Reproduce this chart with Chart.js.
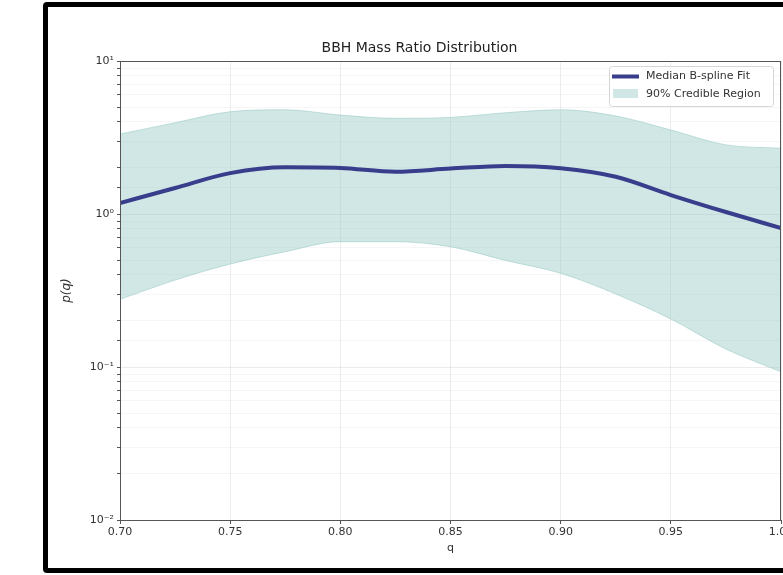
<!DOCTYPE html>
<html>
<head>
<meta charset="utf-8">
<script src="https://cdn.jsdelivr.net/npm/chart.js@4"></script>
<style>
  html, body { margin: 0; padding: 0; background: #fff; overflow: hidden; }
  #frame {
    position: absolute; left: 43px; top: 2px; width: 800px; height: 561px;
    border: 5px solid #000; border-radius: 4px;
  }
  #wrap { position: absolute; left: 0; top: 0; width: 783px; height: 575px; }
</style>
</head>
<body>
<div id="frame"></div>
<div id="wrap"><canvas id="chart-q" width="783" height="575"></canvas></div>
<script>
const qValues = [0.700, 0.725, 0.750, 0.775, 0.800, 0.825, 0.850, 0.875, 0.900, 0.925, 0.950, 0.975, 1.000];
const medianFit = [1.18, 1.48, 1.85, 2.02, 2.00, 1.89, 1.98, 2.06, 1.99, 1.75, 1.33, 1.03, 0.81];
const upper90 = [3.33, 3.95, 4.66, 4.80, 4.43, 4.22, 4.28, 4.59, 4.80, 4.37, 3.54, 2.83, 2.69];
const lower90 = [0.277, 0.37, 0.471, 0.567, 0.659, 0.659, 0.611, 0.497, 0.41, 0.30, 0.206, 0.131, 0.093];
const yTickValues = [0.01, 0.1, 1, 10];
const yTickLabels = ['10\u207B\u00B2', '10\u207B\u00B9', '10\u2070', '10\u00B9'];

const FONT = 'DejaVu Sans';
const pts = arr => arr.map((v, i) => ({ x: qValues[i], y: v }));
const isDecade = v => Math.abs(Math.log10(v) - Math.round(Math.log10(v))) < 1e-9;

// frame around plot area (matplotlib spines)
const spines = {
  id: 'spines',
  afterDraw(chart) {
    const { ctx, chartArea: a } = chart;
    ctx.save();
    ctx.strokeStyle = '#555';
    ctx.lineWidth = 1;
    ctx.strokeRect(a.left + 0.5, a.top + 0.5, a.right - a.left - 1, a.bottom - a.top);
    ctx.restore();
  }
};

// legend box in upper right
const legendBox = {
  id: 'legendBox',
  afterDraw(chart) {
    const { ctx, chartArea: a } = chart;
    const w = 164, h = 40;
    const x = a.right - 8 - w, y = a.top + 5;
    ctx.save();
    ctx.beginPath();
    ctx.roundRect(x + 0.5, y + 0.5, w, h, 3);
    ctx.fillStyle = 'rgba(255,255,255,0.8)';
    ctx.fill();
    ctx.strokeStyle = '#d6d6d6';
    ctx.lineWidth = 1;
    ctx.stroke();

    const ds = chart.data.datasets;
    ctx.strokeStyle = ds[0].borderColor;
    ctx.lineWidth = 4;
    ctx.beginPath();
    ctx.moveTo(x + 3, y + 10.5);
    ctx.lineTo(x + 30, y + 10.5);
    ctx.stroke();

    ctx.fillStyle = 'rgba(139,195,190,0.4)';
    ctx.fillRect(x + 4, y + 23, 25, 9);

    ctx.fillStyle = '#333';
    ctx.font = '11px ' + FONT;
    ctx.textBaseline = 'middle';
    ctx.fillText(ds[0].label, x + 37, y + 10.5);
    ctx.fillText(ds[2].label, x + 37, y + 28);
    ctx.restore();
  }
};

new Chart(document.getElementById('chart-q'), {
  type: 'line',
  data: {
    datasets: [
      {
        label: 'Median B-spline Fit',
        data: pts(medianFit),
        borderColor: '#383d8c',
        borderWidth: 4,
        pointRadius: 0,
        cubicInterpolationMode: 'monotone',
        fill: false
      },
      {
        label: 'upper',
        data: pts(upper90),
        borderColor: 'rgba(139,195,190,0.5)',
        borderWidth: 1,
        pointRadius: 0,
        cubicInterpolationMode: 'monotone',
        fill: false
      },
      {
        label: '90% Credible Region',
        data: pts(lower90),
        borderColor: 'rgba(139,195,190,0.5)',
        borderWidth: 1,
        backgroundColor: 'rgba(139,195,190,0.4)',
        pointRadius: 0,
        cubicInterpolationMode: 'monotone',
        fill: '-1'
      }
    ]
  },
  options: {
    responsive: false,
    animation: false,
    layout: { padding: { left: 58, right: 2, top: 0, bottom: 0 } },
    plugins: {
      legend: { display: false },
      tooltip: { enabled: false },
      title: {
        display: true,
        text: 'BBH Mass Ratio Distribution',
        color: '#222',
        font: { family: FONT, size: 14, weight: 'normal' },
        padding: { top: 39.6, bottom: 4.6 }
      }
    },
    scales: {
      x: {
        type: 'linear',
        min: 0.7,
        max: 1.0,
        ticks: {
          stepSize: 0.05,
          color: '#333',
          padding: 2,
          font: { family: FONT, size: 11 },
          callback: v => v.toFixed(2),
          maxRotation: 0
        },
        grid: { color: 'rgba(0,0,0,0.07)', tickLength: 4, tickColor: '#555' },
        border: { color: '#555' },
        title: {
          display: true, text: 'q', color: '#333',
          font: { family: FONT, size: 11 },
          padding: { top: 0, bottom: 20 }
        },
        afterFit(s) { s.height = 55; s.paddingLeft = 0; s.paddingRight = 0; }
      },
      y: {
        type: 'logarithmic',
        min: 0.01,
        max: 10,
        ticks: {
          autoSkip: false,
          color: '#333',
          padding: 3,
          font: { family: FONT, size: 11 },
          callback: v => {
            const i = yTickValues.findIndex(t => Math.abs(t - v) / t < 1e-9);
            return i >= 0 ? yTickLabels[i] : '';
          }
        },
        grid: {
          color: ctx => ctx.tick && isDecade(ctx.tick.value) ? 'rgba(0,0,0,0.08)' : 'rgba(0,0,0,0.035)',
          tickColor: '#555',
          tickLength: 3
        },
        border: { color: '#555' },
        title: {
          display: true, text: 'p(q)', color: '#333',
          font: { family: FONT, size: 12, style: 'italic' },
          padding: { top: 2, bottom: 0 }
        },
        afterFit(s) { s.width = 62; s.paddingTop = 0; s.paddingBottom = 0; }
      }
    }
  },
  plugins: [spines, legendBox]
});
</script>
</body>
</html>
